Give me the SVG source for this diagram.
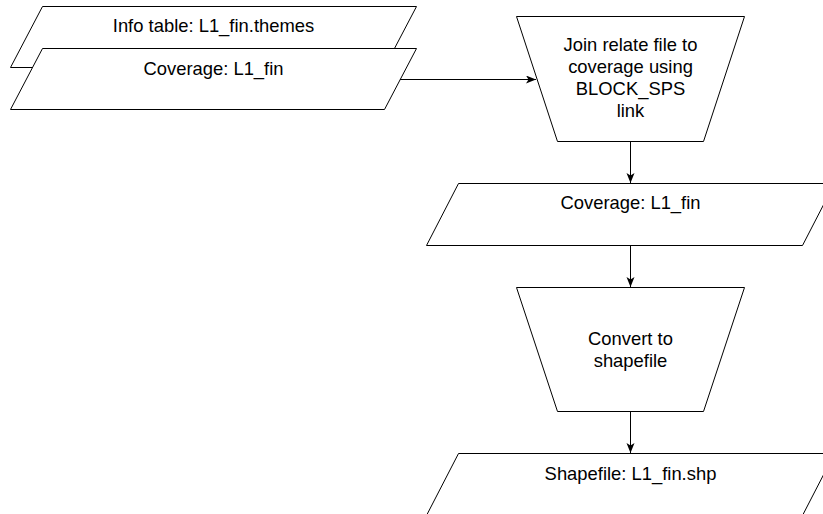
<svg xmlns="http://www.w3.org/2000/svg" width="823" height="514" viewBox="0 0 823 514">
  <style>
    .shape { fill: #ffffff; stroke: #000000; stroke-width: 1; }
    .label { font-family: "Liberation Sans", Arial, sans-serif; font-size: 18.4px; fill: #000000; text-anchor: middle; }
    .edge { fill: none; stroke: #000000; stroke-width: 1; }
  </style>
  <defs>
    <marker id="arrow" markerUnits="userSpaceOnUse" markerWidth="11" markerHeight="9" refX="10" refY="4" orient="auto">
      <path d="M0,0 L10,4 L0,8 L2.5,4 Z" fill="#000000" stroke="none"/>
    </marker>
  </defs>
  <rect width="823" height="514" fill="#ffffff"/>

  <g id="info-table">
    <polygon class="shape" points="42.5,6.5 416.5,6.5 384.5,67.5 10.5,67.5"/>
    <text class="label" x="213.5" y="32">Info table: L1_fin.themes</text>
  </g>

  <g id="coverage-input">
    <polygon class="shape" points="42.5,48.5 416.5,48.5 384.5,109.5 10.5,109.5"/>
    <text class="label" x="213.5" y="75">Coverage: L1_fin</text>
  </g>

  <g id="join-process">
    <polygon class="shape" points="516.5,16.5 744.5,16.5 703.5,141.5 557.5,141.5"/>
    <text class="label" x="630.5" y="51">Join relate file to</text>
    <text class="label" x="630.5" y="73">coverage using</text>
    <text class="label" x="630.5" y="95">BLOCK_SPS</text>
    <text class="label" x="630.5" y="117">link</text>
  </g>

  <g id="coverage-output">
    <polygon class="shape" points="458.5,183.5 834.5,183.5 802.5,245.5 426.5,245.5"/>
    <text class="label" x="630.5" y="208.5">Coverage: L1_fin</text>
  </g>

  <g id="convert-process">
    <polygon class="shape" points="516.5,287.5 744.5,287.5 703.5,411.5 557.5,411.5"/>
    <text class="label" x="630.5" y="345">Convert to</text>
    <text class="label" x="630.5" y="367">shapefile</text>
  </g>

  <g id="shapefile-output">
    <polygon class="shape" points="458.5,453.5 834.5,453.5 802.5,515.5 426.5,515.5"/>
    <text class="label" x="630.5" y="479.5">Shapefile: L1_fin.shp</text>
  </g>

  <g id="connectors">
    <path class="edge" d="M400,79.5 L536,79.5" marker-end="url(#arrow)"/>
    <path class="edge" d="M630.5,141.5 L630.5,183" marker-end="url(#arrow)"/>
    <path class="edge" d="M630.5,245.5 L630.5,287" marker-end="url(#arrow)"/>
    <path class="edge" d="M630.5,411.5 L630.5,453" marker-end="url(#arrow)"/>
  </g>
</svg>
